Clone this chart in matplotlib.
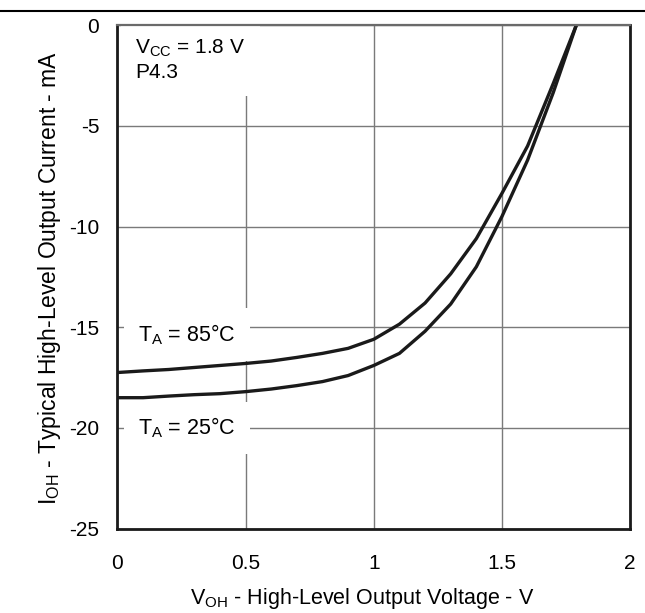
import matplotlib
matplotlib.use('Agg')
import matplotlib.pyplot as plt
from matplotlib.lines import Line2D

plt.rcParams['font.family'] = ['Liberation Sans', 'DejaVu Sans']
plt.rcParams['mathtext.fontset'] = 'custom'
plt.rcParams['mathtext.rm'] = 'Liberation Sans'
plt.rcParams['mathtext.it'] = 'Liberation Sans'
plt.rcParams['axes.unicode_minus'] = False

# output voltage (V)
v_oh = [0.0, 0.1, 0.2, 0.3, 0.4, 0.5, 0.6, 0.7, 0.8, 0.9,
        1.0, 1.1, 1.2, 1.3, 1.4, 1.5, 1.6, 1.7, 1.79]
# output current (mA)
i_85c = [-17.25, -17.17, -17.1, -17.0, -16.9, -16.8, -16.68, -16.5, -16.3, -16.05,
         -15.6, -14.85, -13.8, -12.35, -10.6, -8.35, -6.0, -2.9, 0.0]
i_25c = [-18.5, -18.5, -18.42, -18.35, -18.3, -18.2, -18.07, -17.9, -17.7, -17.4,
         -16.9, -16.3, -15.2, -13.85, -12.0, -9.5, -6.7, -3.35, 0.0]

x_ticks = [0, 0.5, 1, 1.5, 2]
x_tick_labels = ['0', '0.5', '1', '1.5', '2']
y_ticks = [0, -5, -10, -15, -20, -25]

fig = plt.figure(figsize=(6.45, 6.13), dpi=100)
ax = fig.add_axes([0.182, 0.1377, 0.795, 0.8213])

ax.plot(v_oh, i_85c, color='#1a1a1a', lw=2.4, zorder=2)
ax.plot(v_oh, i_25c, color='#1a1a1a', lw=2.4, zorder=2)

ax.set_xlim(0, 2)
ax.set_ylim(-25, 0)
ax.set_xticks(x_ticks)
ax.set_xticklabels(x_tick_labels)
ax.set_yticks(y_ticks)
ax.tick_params(length=0, labelsize=15)
ax.tick_params(axis='x', pad=18)
ax.tick_params(axis='y', pad=13)

ax.grid(True, color='#7a7a7a', lw=1.0)
ax.set_axisbelow(True)

for side in ['left', 'bottom', 'right']:
    ax.spines[side].set_color('#1a1a1a')
    ax.spines[side].set_linewidth(2.0)
ax.spines['top'].set_color('#6a6a6a')
ax.spines['top'].set_linewidth(1.6)

ax.set_xlabel(r'V$_{\rm OH}$ - High-Level Output Voltage - V', fontsize=15.5, va='top')
ax.xaxis.set_label_coords(0.477, -0.115)
ax.set_ylabel(r'I$_{\rm OH}$ - Typical High-Level Output Current - mA', fontsize=16.5)
ax.yaxis.set_label_coords(-0.106, 0.497)

box = dict(facecolor='white', edgecolor='none', pad=10)
ax.text(0.07, -0.6, 'V$_{\\rm CC}$ = 1.8 V\nP4.3', fontsize=15, ha='left', va='top',
        linespacing=1.3, bbox=box, zorder=2.2)
ax.text(0.08, -15.35, r'T$_{\rm A}$ = 85°C', fontsize=15.5, ha='left', va='center',
        bbox=box, zorder=2.2)
ax.text(0.08, -20.0, r'T$_{\rm A}$ = 25°C', fontsize=15.5, ha='left', va='center',
        bbox=box, zorder=2.2)

# rule across the top of the page
fig.add_artist(Line2D([0, 1], [0.982, 0.982], color='black', lw=1.5,
                      transform=fig.transFigure))

plt.savefig('out.png', dpi=100)
plt.close()
